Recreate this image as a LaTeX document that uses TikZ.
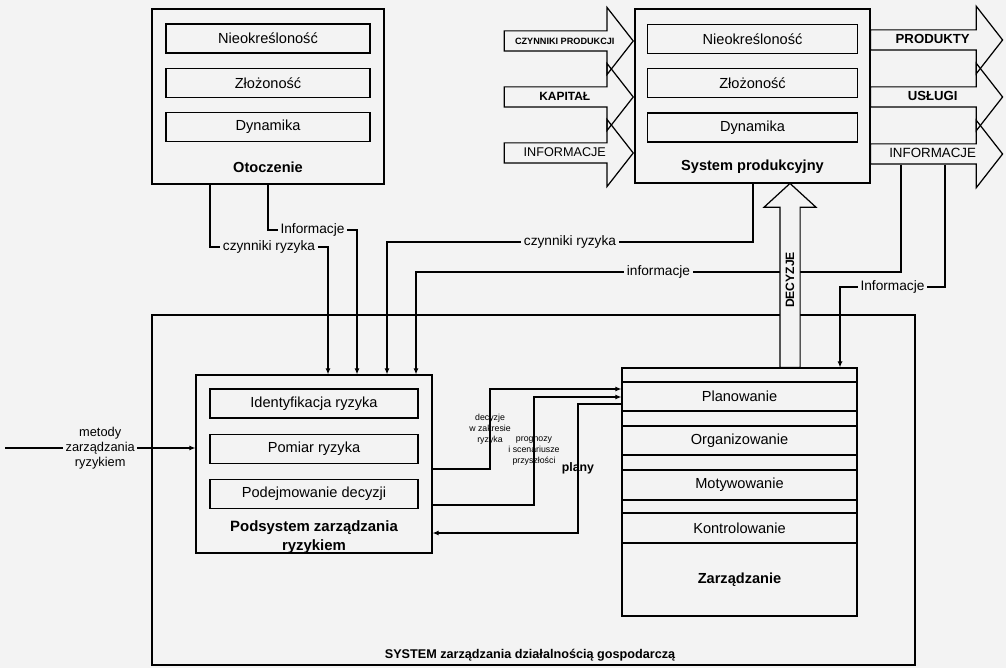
\documentclass[tikz,border=0pt]{standalone}
\usepackage{fontspec}
\setmainfont{Liberation Sans}
\usepackage{tikz}
\usetikzlibrary{arrows.meta,positioning,shapes.arrows,backgrounds}
\definecolor{PageGrey}{HTML}{F3F3F3}
\tikzset{
  outerbox/.style={draw,line width=0.7pt,inner sep=0pt},
  rowbox/.style={draw,line width=0.7pt,inner sep=0pt,minimum height=0.58cm,font=\fontsize{8.3}{10}\selectfont},
  boxtitle/.style={align=center,font=\fontsize{8.3}{10.5}\selectfont\bfseries},
  conn/.style={line width=0.7pt},
  lbl/.style={fill=PageGrey,inner xsep=1.5pt,inner ysep=1pt,font=\fontsize{7.8}{9}\selectfont},
  smalllbl/.style={align=center,inner sep=0pt,font=\fontsize{5}{6.2}\selectfont},
  bigarrow/.style={single arrow,draw,line width=0.7pt,inner xsep=1pt,inner ysep=0pt,
    text height=0.27cm,text depth=0.11cm,single arrow tip angle=104,single arrow head extend=0.47cm}
}

\begin{document}
\begin{tikzpicture}[x=0.02cm,y=-0.02cm,>={Latex[length=3.5pt,width=3pt]}]
  \begin{scope}[on background layer]
    \fill[PageGrey] (0,0) rectangle (1006,668);
  \end{scope}
  \useasboundingbox (0,0) rectangle (1006,668);

  % whole enterprise
  \node[outerbox,minimum width=15.26cm,minimum height=7cm] (sysbox) at (533.5,490) {};
  \node[font=\fontsize{7.2}{9}\selectfont\bfseries] (syslbl) at (530,655) {SYSTEM zarządzania działalnością gospodarczą};

  % environment
  \node[outerbox,minimum width=4.64cm,minimum height=3.5cm] (otoc) at (268,96.5) {};
  \node[rowbox,minimum width=4.08cm] (otoc1) at (268,38.5) {Nieokreśloność};
  \node[rowbox,minimum width=4.08cm,below=0.28cm of otoc1] (otoc2) {Złożoność};
  \node[rowbox,minimum width=4.08cm,below=0.28cm of otoc2] (otoc3) {Dynamika};
  \node[boxtitle] (otocl) at (268,167) {Otoczenie};

  % production system
  \node[outerbox,minimum width=4.7cm,minimum height=3.48cm] (prod) at (752.5,96) {};
  \node[rowbox,minimum width=4.2cm] (prod1) at (752.5,39) {Nieokreśloność};
  \node[rowbox,minimum width=4.2cm,below=0.28cm of prod1] (prod2) {Złożoność};
  \node[rowbox,minimum width=4.2cm,below=0.28cm of prod2] (prod3) {Dynamika};
  \node[boxtitle] (prodl) at (752.5,167) {System produkcyjny};

  % risk subsystem
  \node[outerbox,minimum width=4.72cm,minimum height=3.56cm] (podsys) at (314,464) {};
  \node[rowbox,minimum width=4.16cm] (pods1) at (314,403.5) {Identyfikacja ryzyka};
  \node[rowbox,minimum width=4.16cm,below=0.3cm of pods1] (pods2) {Pomiar ryzyka};
  \node[rowbox,minimum width=4.16cm,below=0.3cm of pods2] (pods3) {Podejmowanie decyzji};
  \node[boxtitle,font=\fontsize{8.5}{10.5}\selectfont\bfseries] (podsl) at (314,537) {Podsystem zarządzania\\ryzykiem};

  % management
  \node[outerbox,minimum width=4.7cm,minimum height=4.96cm] (zarz) at (739.5,492) {};
  \node[rowbox,minimum width=4.7cm] (plan) at (739.5,396.5) {Planowanie};
  \node[rowbox,minimum width=4.7cm] (org) at (739.5,440.5) {Organizowanie};
  \node[rowbox,minimum width=4.7cm,minimum height=0.6cm] (mot) at (739.5,485) {Motywowanie};
  \node[rowbox,minimum width=4.7cm,minimum height=0.6cm] (kontr) at (739.5,528) {Kontrolowanie};
  \node[boxtitle] (zarzl) at (739.5,580) {Zarządzanie};

  % inputs and outputs
  \node[bigarrow,minimum height=2.58cm,anchor=tip,font=\fontsize{5.2}{6}\selectfont\bfseries] (inczyn) at (634,41) {CZYNNIKI PRODUKCJI};
  \node[bigarrow,minimum height=2.58cm,anchor=tip,font=\fontsize{6.8}{8}\selectfont\bfseries] (inkap) at (634,97) {KAPITAŁ};
  \node[bigarrow,minimum height=2.58cm,anchor=tip,font=\fontsize{7.2}{8}\selectfont] (ininf) at (634,153) {INFORMACJE};
  \node[bigarrow,minimum height=2.64cm,anchor=tail,font=\fontsize{7.5}{8}\selectfont\bfseries] (outprod) at (870,40) {PRODUKTY};
  \node[bigarrow,minimum height=2.64cm,anchor=tail,font=\fontsize{7.5}{8}\selectfont\bfseries] (outusl) at (870,97) {USŁUGI};
  \node[bigarrow,minimum height=2.64cm,anchor=tail,font=\fontsize{7.6}{8}\selectfont] (outinf) at (870,154) {INFORMACJE};

  % decisions
  \node[bigarrow,fill=PageGrey,rotate=90,anchor=tail,minimum height=3.68cm,single arrow tip angle=95,
    single arrow head extend=0.32cm,font=\fontsize{6.9}{8}\selectfont\bfseries] (decyz) at (790,368) {DECYZJE};

  \begin{scope}[on background layer]
    \coordinate (r1) at (210,247);
    \coordinate (r2) at (328,247);
    \draw[conn,->] (otoc.south -| r1) -- (r1) -- node[lbl]{czynniki ryzyka} (r2) -- (podsys.north -| r2);
    \coordinate (i1) at (268,230);
    \coordinate (i2) at (357,230);
    \draw[conn,->] (otoc.south -| i1) -- (i1) -- node[lbl]{Informacje} (i2) -- (podsys.north -| i2);
    \coordinate (r3) at (753,242);
    \coordinate (r4) at (387,242);
    \draw[conn,->] (prod.south -| r3) -- (r3) -- node[lbl]{czynniki ryzyka} (r4) -- (podsys.north -| r4);
    \coordinate (i3) at (901,272);
    \coordinate (i4) at (416,272);
    \draw[conn,->] (outinf.south -| i3) -- (i3) -- node[lbl]{informacje} (i4) -- (podsys.north -| i4);
    \coordinate (i5) at (945,287);
    \coordinate (i6) at (840,287);
    \draw[conn,->] (outinf.south -| i5) -- (i5) -- node[lbl]{Informacje} (i6) -- (zarz.north -| i6);

    \coordinate (d1) at (490,469);
    \coordinate (d2) at (490,389);
    \draw[conn,->] (podsys.east |- d1) -- (d1) -- node[smalllbl]{decyzje\\w zakresie\\ryzyka} (d2) -- (zarz.west |- d2);
    \coordinate (p1) at (534,505);
    \coordinate (p2) at (534,397);
    \draw[conn,->] (podsys.east |- p1) -- (p1) -- node[smalllbl]{prognozy\\i scenariusze\\przyszłości} (p2) -- (zarz.west |- p2);
    \coordinate (n1) at (578,404);
    \coordinate (n2) at (578,533);
    \draw[conn,->] (zarz.west |- n1) -- (n1) -- node[font=\fontsize{7}{8}\selectfont\bfseries]{plany} (n2) -- (podsys.east |- n2);

    \coordinate (m0) at (5,448);
    \draw[conn,->] (m0) -- node[lbl,align=center,font=\fontsize{7.3}{8.5}\selectfont]{metody\\zarządzania\\ryzykiem} (podsys.west |- m0);
  \end{scope}
\end{tikzpicture}
\end{document}
